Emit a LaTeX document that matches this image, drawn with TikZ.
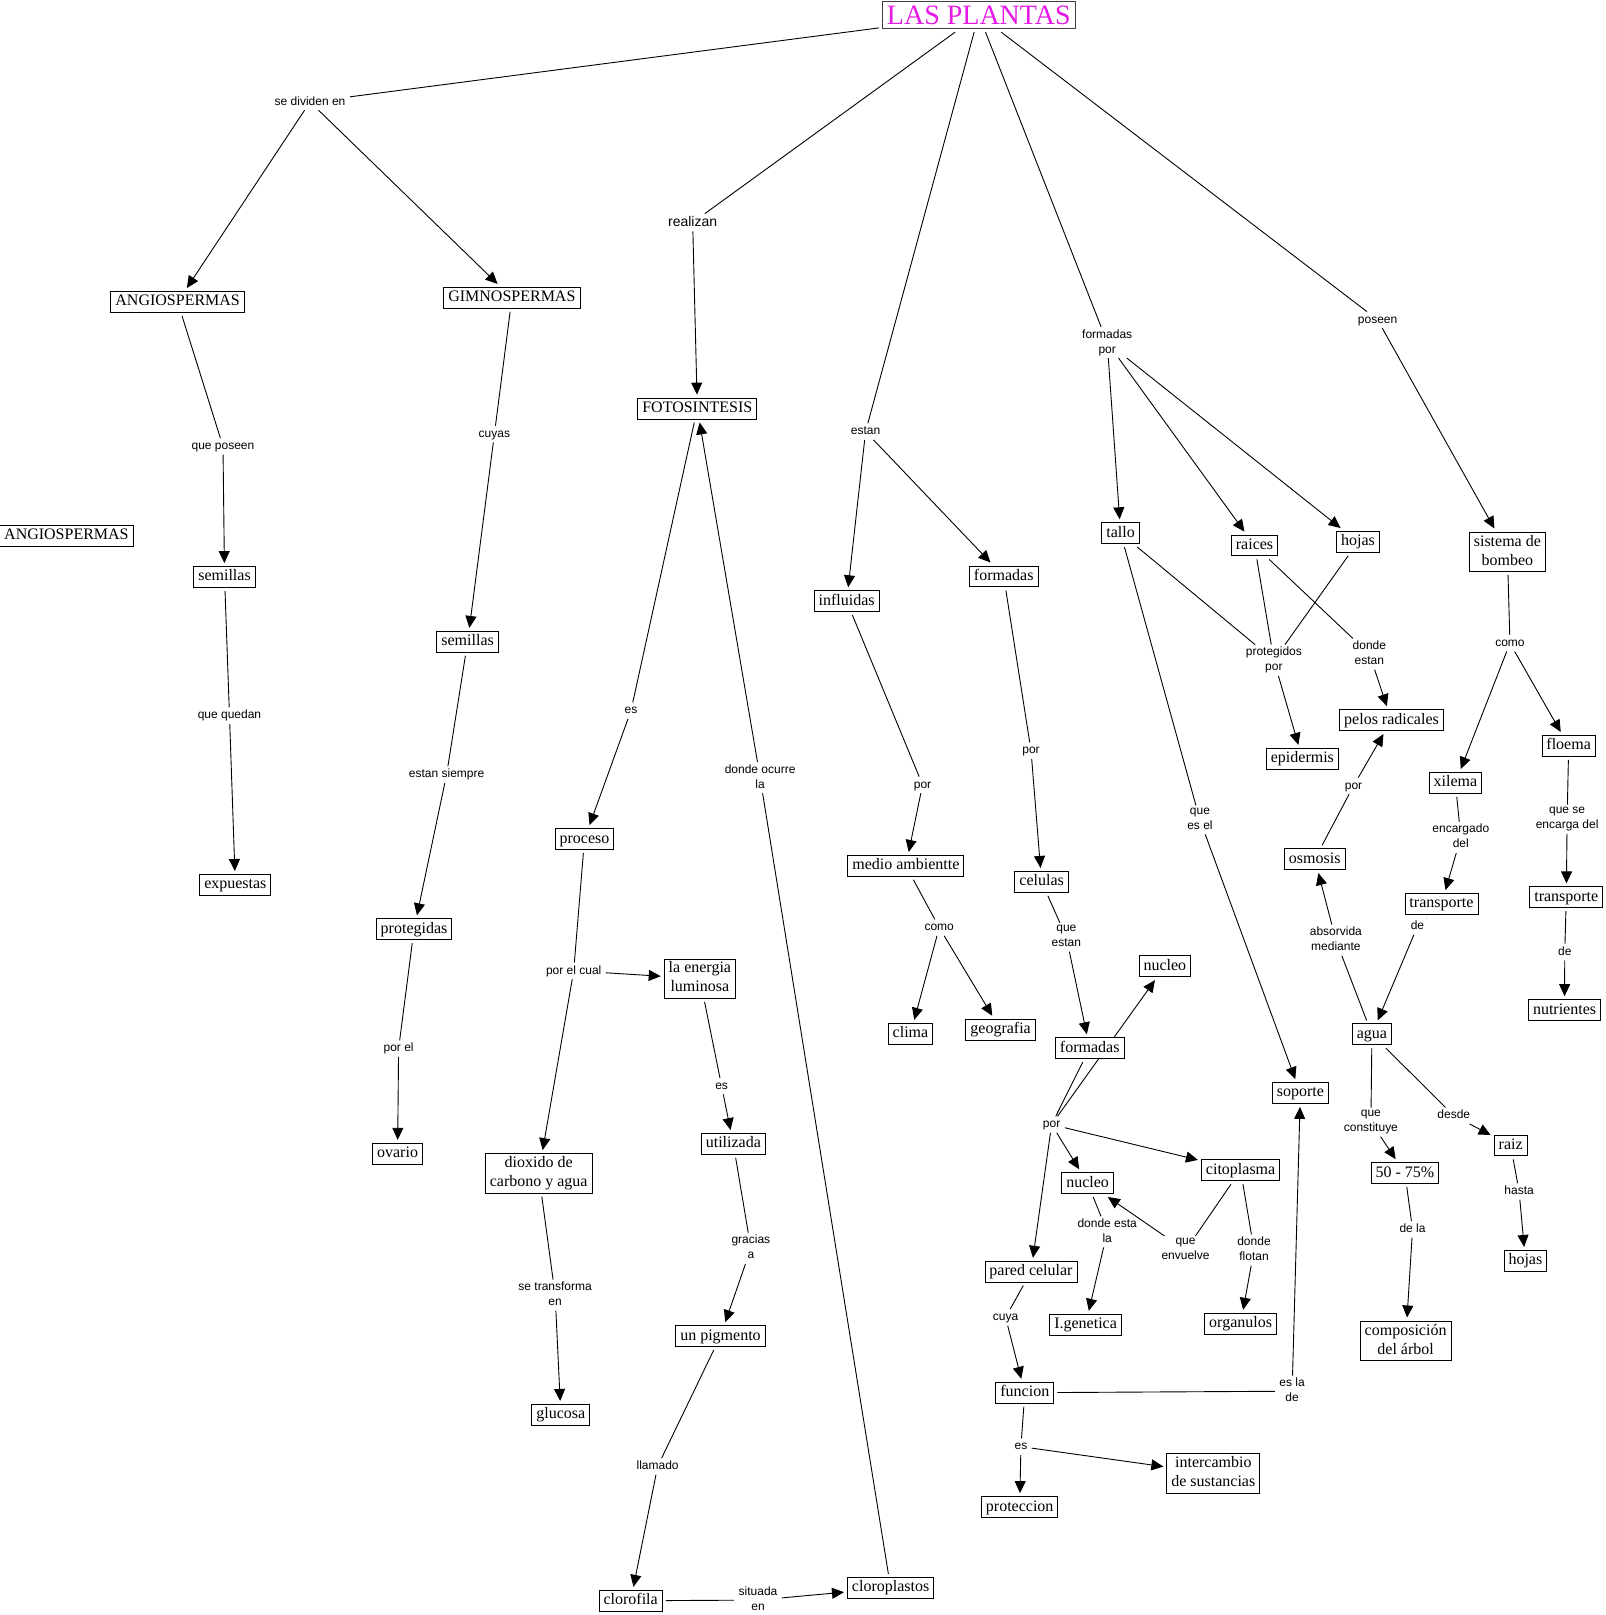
\documentclass[tikz,border=0pt]{standalone}
\usepackage{fontspec}
\setmainfont{Liberation Serif}
\newfontfamily\sansf{Liberation Sans}
\usetikzlibrary{arrows.meta}
\definecolor{tmag}{RGB}{230,25,230}
\newcommand{\cs}{\rule[-3.5pt]{0pt}{15pt}}
\newcommand{\ls}{\rule[-2.5pt]{0pt}{11.5pt}}
\pgfdeclarelayer{back}
\pgfdeclarelayer{bg}
\pgfsetlayers{back,bg,main}
\begin{document}
\begin{tikzpicture}[x=1.0301pt,y=-1.0301pt,
  cpt/.style={draw, line width=0.9pt, fill=white, font=\fontsize{16}{19}\selectfont, inner xsep=4.5pt, inner ysep=2.9pt, outer sep=3.5pt, align=center, yshift=-1.2pt, execute at begin node=\cs},
  capbox/.style={cpt},
  lbl/.style={font=\sansf\fontsize{12}{15}\selectfont, inner xsep=3pt, inner ysep=1pt, outer sep=1.5pt, align=center, execute at begin node=\ls},
  ln/.style={line width=0.9pt},
  ar/.style={ln, -{Triangle[length=12pt,width=11pt]}}
]
\useasboundingbox (0,0) rectangle (1559,1568);
\begin{pgfonlayer}{back}
\fill[white] (0,0) rectangle (1559,1568);
\end{pgfonlayer}
% concepts
\node[draw=black!75, line width=0.9pt, fill=white, text=tmag, font=\fontsize{28}{32}\selectfont, inner xsep=4.5pt, inner ysep=4.3pt, outer sep=3.5pt] (title) at (950.3,14.5) {LAS PLANTAS};
\node[capbox] (ang1) at (172.5,292) {ANGIOSPERMAS};
\node[capbox] (ang2) at (64.5,519) {ANGIOSPERMAS};
\node[capbox] (gim) at (497,288) {GIMNOSPERMAS};
\node[capbox] (foto) at (677,395.5) {FOTOSINTESIS};
\node[cpt] (sem1) at (218,559) {semillas};
\node[cpt] (sem2) at (454,622) {semillas};
\node[cpt] (expu) at (228.5,858) {expuestas};
\node[cpt] (prot) at (402,901) {protegidas};
\node[cpt] (ova) at (386,1119) {ovario};
\node[cpt] (proc) at (567.5,813.5) {proceso};
\node[cpt] (ener) at (679.5,949) {la energia\\luminosa\cs};
\node[cpt] (diox) at (523,1138) {dioxido de\\carbono y agua\cs};
\node[cpt] (gluc) at (544.5,1372.5) {glucosa};
\node[cpt] (util) at (712,1109.5) {utilizada};
\node[cpt] (pigm) at (699.5,1296) {un pigmento};
\node[cpt] (cloro) at (612.3,1553) {clorofila};
\node[cpt] (clpl) at (864.7,1540.5) {cloroplastos};
\node[cpt] (infl) at (822,582.5) {influidas};
\node[cpt] (form1) at (974.5,558.5) {formadas};
\node[cpt] (medio) at (879.5,839.5) {medio ambientte};
\node[cpt] (clima) at (884,1002.5) {clima};
\node[cpt] (geo) at (971.5,998.5) {geografia};
\node[cpt] (cel) at (1011.3,855) {celulas};
\node[cpt] (nuc1) at (1131,937) {nucleo};
\node[cpt] (form2) at (1058,1016.5) {formadas};
\node[cpt] (nuc2) at (1056,1147.5) {nucleo};
\node[cpt] (cito) at (1204.5,1135) {citoplasma};
\node[cpt] (pared) at (1001,1233.5) {pared celular};
\node[cpt] (igen) at (1054,1285) {I.genetica};
\node[cpt] (org) at (1204.5,1284) {organulos};
\node[cpt] (func) at (995,1351) {funcion};
\node[cpt] (inter) at (1178,1429.5) {intercambio\\de sustancias\cs};
\node[cpt] (proteccion) at (990,1462) {proteccion};
\node[cpt] (sop) at (1262.5,1060) {soporte};
\node[cpt] (tallo) at (1088,516.5) {tallo};
\node[cpt] (raices) at (1218,528.5) {raices};
\node[cpt] (hojas1) at (1318.5,525) {hojas};
\node[cpt] (epid) at (1264.5,735.5) {epidermis};
\node[cpt] (pelos) at (1351,698) {pelos radicales};
\node[cpt] (osm) at (1276.5,833) {osmosis};
\node[cpt] (agua) at (1332,1003) {agua};
\node[cpt] (sist) at (1463.5,534.5) {sistema de\\bombeo\cs};
\node[cpt] (xil) at (1413,759) {xilema};
\node[cpt] (floe) at (1523,723) {floema};
\node[cpt] (trans1) at (1399.5,876.5) {transporte};
\node[cpt] (trans2) at (1520.7,870) {transporte};
\node[cpt] (nutr) at (1519,979.5) {nutrientes};
\node[cpt] (pct) at (1364,1137.7) {50 - 75\%};
\node[cpt] (raiz) at (1466.7,1111) {raiz};
\node[cpt] (hojas2) at (1481,1223) {hojas};
\node[cpt] (comp) at (1364.7,1300.5) {composición\\del árbol\cs};
% linking phrases
\node[lbl] (ldiv) at (301,99) {se dividen en};
\node[lbl, font=\sansf\fontsize{14}{17}\selectfont] (lreal) at (672.5,216) {realizan};
\node[lbl] (lestan) at (840.4,419) {estan};
\node[lbl] (lfpor) at (1075,332.5) {formadas\\por\ls};
\node[lbl] (lpos) at (1337.5,310.5) {poseen};
\node[lbl] (lqpos) at (216.5,433.5) {que poseen};
\node[lbl] (lcuyas) at (480,421.5) {cuyas};
\node[lbl] (lqqued) at (222.8,694.8) {que quedan};
\node[lbl] (lsiempre) at (433.6,752) {estan siempre};
\node[lbl] (lporel) at (387,1018) {por el};
\node[lbl] (les1) at (612.6,690) {es};
\node[lbl] (locurre) at (738,755) {donde ocurre\\la\ls};
\node[lbl] (lcual) at (557,942.5) {por el cual};
\node[lbl] (les2) at (700.6,1054.5) {es};
\node[lbl] (lgracias) at (729,1212) {gracias\\a\ls};
\node[lbl] (ltransf) at (539,1257.5) {se transforma\\en\ls};
\node[lbl] (lllam) at (638.5,1423.7) {llamado};
\node[lbl] (lsit) at (736,1553.5) {situada\\en\ls};
\node[lbl] (lpor1) at (895.7,762) {por};
\node[lbl] (lpor2) at (1001,728.8) {por};
\node[lbl] (lcomo1) at (911.9,900.6) {como};
\node[lbl] (lqestan) at (1035.3,910) {que\\estan\ls};
\node[lbl] (lpor3) at (1021,1091.8) {por};
\node[lbl] (ldesta) at (1075,1196) {donde esta\\la\ls};
\node[lbl] (lenv) at (1151,1214) {que\\envuelve\ls};
\node[lbl] (lflot) at (1217.5,1213.7) {donde\\flotan\ls};
\node[lbl] (lcuya) at (976.3,1279) {cuya};
\node[lbl] (lesla) at (1254.5,1350.7) {es la\\de\ls};
\node[lbl] (les3) at (991.2,1404.5) {es};
\node[lbl] (lqesel) at (1165,796) {que\\es el\ls};
\node[lbl] (lprotpor) at (1236.8,641) {protegidos\\por\ls};
\node[lbl] (ldest) at (1329.5,635) {donde\\estan\ls};
\node[lbl] (lcomo2) at (1466,624.5) {como};
\node[lbl] (lqse) at (1521.5,795.3) {que se\\encarga del\ls};
\node[lbl] (lde1) at (1519.2,924.4) {de};
\node[lbl] (lencarg) at (1418.3,813) {encargado\\del\ls};
\node[lbl] (lde2) at (1376.2,899.3) {de};
\node[lbl] (lpor4) at (1314.1,763) {por};
\node[lbl] (labsorv) at (1297,912.8) {absorvida\\mediante\ls};
\node[lbl] (lqconst) at (1331,1089.5) {que\\constituye\ls};
\node[lbl] (ldesde) at (1411.5,1083.2) {desde};
\node[lbl] (ldela) at (1371.4,1193.5) {de la};
\node[lbl] (lhasta) at (1474.9,1156.8) {hasta};
% connectors
\begin{pgfonlayer}{bg}
\draw[ln] (title) -- (ldiv);
\draw[ar] (ldiv) -- (ang1);
\draw[ar] (ldiv) -- (gim);
\draw[ln] (title) -- (lreal);
\draw[ar] (lreal) -- (foto);
\draw[ln] (title) -- (lestan);
\draw[ar] (lestan) -- (infl);
\draw[ar] (lestan) -- (form1);
\draw[ln] (title) -- (lfpor);
\draw[ar] (lfpor) -- (tallo);
\draw[ar] (lfpor) -- (raices);
\draw[ar] (lfpor) -- (hojas1);
\draw[ln] (title) -- (lpos);
\draw[ar] (lpos) -- (sist);
\draw[ln] (ang1) -- (lqpos);
\draw[ar] (lqpos) -- (sem1);
\draw[ln] (sem1) -- (lqqued);
\draw[ar] (lqqued) -- (expu);
\draw[ln] (gim) -- (lcuyas);
\draw[ar] (lcuyas) -- (sem2);
\draw[ln] (sem2) -- (lsiempre);
\draw[ar] (lsiempre) -- (prot);
\draw[ln] (prot) -- (lporel);
\draw[ar] (lporel) -- (ova);
\draw[ln] (foto) -- (les1);
\draw[ar] (les1) -- (proc);
\draw[ln] (clpl) -- (locurre);
\draw[ar] (locurre) -- (foto);
\draw[ln] (proc) -- (lcual);
\draw[ar] (lcual) -- (ener);
\draw[ar] (lcual) -- (diox);
\draw[ln] (ener) -- (les2);
\draw[ar] (les2) -- (util);
\draw[ln] (util) -- (lgracias);
\draw[ar] (lgracias) -- (pigm);
\draw[ln] (diox) -- (ltransf);
\draw[ar] (ltransf) -- (gluc);
\draw[ln] (pigm) -- (lllam);
\draw[ar] (lllam) -- (cloro);
\draw[ln] (cloro) -- (lsit);
\draw[ar] (lsit) -- (clpl);
\draw[ln] (infl) -- (lpor1);
\draw[ar] (lpor1) -- (medio);
\draw[ln] (medio) -- (lcomo1);
\draw[ar] (lcomo1) -- (clima);
\draw[ar] (lcomo1) -- (geo);
\draw[ln] (form1) -- (lpor2);
\draw[ar] (lpor2) -- (cel);
\draw[ln] (cel) -- (lqestan);
\draw[ar] (lqestan) -- (form2);
\draw[ln] (form2) -- (lpor3);
\draw[ar] (lpor3) -- (nuc1);
\draw[ar] (lpor3) -- (nuc2);
\draw[ar] (lpor3) -- (cito);
\draw[ar] (lpor3) -- (pared);
\draw[ln] (nuc2) -- (ldesta);
\draw[ar] (ldesta) -- (igen);
\draw[ln] (cito) -- (lenv);
\draw[ar] (lenv) -- (nuc2);
\draw[ln] (cito) -- (lflot);
\draw[ar] (lflot) -- (org);
\draw[ln] (pared) -- (lcuya);
\draw[ar] (lcuya) -- (func);
\draw[ln] (func) -- (lesla);
\draw[ar] (lesla) -- (sop);
\draw[ln] (func) -- (les3);
\draw[ar] (les3) -- (proteccion);
\draw[ar] (les3) -- (inter);
\draw[ln] (tallo) -- (lqesel);
\draw[ar] (lqesel) -- (sop);
\draw[ln] (tallo) -- (lprotpor);
\draw[ln] (raices) -- (lprotpor);
\draw[ln] (hojas1) -- (lprotpor);
\draw[ar] (lprotpor) -- (epid);
\draw[ln] (raices) -- (ldest);
\draw[ar] (ldest) -- (pelos);
\draw[ln] (sist) -- (lcomo2);
\draw[ar] (lcomo2) -- (xil);
\draw[ar] (lcomo2) -- (floe);
\draw[ln] (xil) -- (lencarg);
\draw[ar] (lencarg) -- (trans1);
\draw[ln] (floe) -- (lqse);
\draw[ar] (lqse) -- (trans2);
\draw[ln] (trans2) -- (lde1);
\draw[ar] (lde1) -- (nutr);
\draw[ln] (trans1) -- (lde2);
\draw[ar] (lde2) -- (agua);
\draw[ln] (agua) -- (labsorv);
\draw[ar] (labsorv) -- (osm);
\draw[ln] (osm) -- (lpor4);
\draw[ar] (lpor4) -- (pelos);
\draw[ln] (agua) -- (lqconst);
\draw[ar] (lqconst) -- (pct);
\draw[ln] (agua) -- (ldesde);
\draw[ar] (ldesde) -- (raiz);
\draw[ln] (pct) -- (ldela);
\draw[ar] (ldela) -- (comp);
\draw[ln] (raiz) -- (lhasta);
\draw[ar] (lhasta) -- (hojas2);
\end{pgfonlayer}
\end{tikzpicture}
\end{document}
